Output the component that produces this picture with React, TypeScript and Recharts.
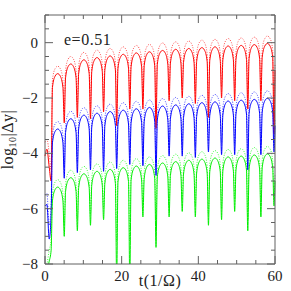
import { LineChart, Line, XAxis, YAxis, Label } from "recharts";

// sample times (1/Ω): dips of each arc plus a few points on every arc
const times = [
  0, 0.5, 1.1,
  1.6, 1.94, 2.63, 3.31, 3.99, 4.68,
  5.02, 5.36, 6.05, 6.73, 7.41, 8.1,
  8.44, 8.78, 9.47, 10.15, 10.83, 11.52,
  11.86, 12.2, 12.89, 13.57, 14.25, 14.94,
  15.28, 15.62, 16.31, 16.99, 17.67, 18.36,
  18.7, 19.04, 19.73, 20.41, 21.09, 21.78,
  22.12, 22.46, 23.15, 23.83, 24.51, 25.2,
  25.54, 25.88, 26.57, 27.25, 27.93, 28.62,
  28.96, 29.3, 29.99, 30.67, 31.35, 32.04,
  32.38, 32.72, 33.41, 34.09, 34.77, 35.46,
  35.8, 36.14, 36.83, 37.51, 38.19, 38.88,
  39.22, 39.56, 40.25, 40.93, 41.61, 42.3,
  42.64, 42.98, 43.67, 44.35, 45.03, 45.72,
  46.06, 46.4, 47.09, 47.77, 48.45, 49.14,
  49.48, 49.82, 50.51, 51.19, 51.87, 52.56,
  52.9, 53.24, 53.93, 54.61, 55.29, 55.98,
  56.32, 56.66, 57.35, 58.03, 58.71, 59.4,
  59.74, 60,
];

const redSolid = [
  -4.1, -3.85, -4.5,
  -5.0, -1.62, -1.21, -1.12, -1.21, -1.62,
  -2.9, -1.27, -0.86, -0.77, -0.86, -1.27,
  -2.7, -1.12, -0.71, -0.62, -0.71, -1.12,
  -2.75, -1.04, -0.63, -0.54, -0.63, -1.04,
  -2.5, -0.98, -0.57, -0.48, -0.57, -0.98,
  -3.0, -0.92, -0.51, -0.42, -0.51, -0.92,
  -2.4, -0.87, -0.46, -0.37, -0.46, -0.87,
  -2.4, -0.83, -0.42, -0.33, -0.42, -0.83,
  -3.1, -0.78, -0.37, -0.28, -0.37, -0.78,
  -2.1, -0.74, -0.33, -0.24, -0.33, -0.74,
  -2.0, -0.71, -0.3, -0.21, -0.3, -0.71,
  -2.2, -0.68, -0.27, -0.18, -0.27, -0.68,
  -2.7, -0.65, -0.24, -0.15, -0.24, -0.65,
  -2.0, -0.62, -0.21, -0.12, -0.21, -0.62,
  -2.1, -0.6, -0.19, -0.1, -0.19, -0.6,
  -2.4, -0.57, -0.16, -0.07, -0.16, -0.57,
  -2.1, -0.53, -0.12, -0.03, -0.12, -0.53,
  -3.3, -1.0,
];

const redDotted = [
  -3.6, -3.5, -4.0,
  -4.6, -1.35, -0.94, -0.85, -0.94, -1.35,
  -2.5, -1.0, -0.59, -0.5, -0.59, -1.0,
  -2.3, -0.85, -0.44, -0.35, -0.44, -0.85,
  -2.35, -0.77, -0.36, -0.27, -0.36, -0.77,
  -2.1, -0.71, -0.3, -0.21, -0.3, -0.71,
  -2.6, -0.65, -0.24, -0.15, -0.24, -0.65,
  -2.0, -0.6, -0.19, -0.1, -0.19, -0.6,
  -2.0, -0.56, -0.15, -0.06, -0.15, -0.56,
  -2.7, -0.51, -0.1, -0.01, -0.1, -0.51,
  -1.7, -0.47, -0.06, 0.03, -0.06, -0.47,
  -1.6, -0.44, -0.03, 0.06, -0.03, -0.44,
  -1.8, -0.41, 0.0, 0.09, 0.0, -0.41,
  -2.3, -0.38, 0.03, 0.12, 0.03, -0.38,
  -1.6, -0.35, 0.06, 0.15, 0.06, -0.35,
  -1.7, -0.33, 0.08, 0.17, 0.08, -0.33,
  -2.0, -0.3, 0.11, 0.2, 0.11, -0.3,
  -1.7, -0.26, 0.15, 0.24, 0.15, -0.26,
  -2.9, -0.75,
];

const blueSolid = [
  -5.9, -5.85, -7.1,
  -6.2, -3.62, -3.21, -3.12, -3.21, -3.62,
  -4.9, -3.25, -2.84, -2.75, -2.84, -3.25,
  -4.7, -3.12, -2.71, -2.62, -2.71, -3.12,
  -4.6, -3.05, -2.64, -2.55, -2.64, -3.05,
  -4.65, -2.99, -2.58, -2.49, -2.58, -2.99,
  -4.55, -2.94, -2.53, -2.44, -2.53, -2.94,
  -4.4, -2.89, -2.48, -2.39, -2.48, -2.89,
  -4.45, -2.84, -2.43, -2.34, -2.43, -2.84,
  -4.8, -2.79, -2.38, -2.29, -2.38, -2.79,
  -4.1, -2.75, -2.34, -2.25, -2.34, -2.75,
  -4.1, -2.71, -2.3, -2.21, -2.3, -2.71,
  -4.15, -2.67, -2.26, -2.17, -2.26, -2.67,
  -3.95, -2.64, -2.23, -2.14, -2.23, -2.64,
  -4.05, -2.61, -2.2, -2.11, -2.2, -2.61,
  -4.05, -2.58, -2.17, -2.08, -2.17, -2.58,
  -4.6, -2.55, -2.14, -2.05, -2.14, -2.55,
  -4.05, -2.51, -2.1, -2.01, -2.1, -2.51,
  -3.95, -3.0,
];

const blueDotted = [
  -5.5, -5.45, -6.6,
  -5.8, -3.35, -2.94, -2.85, -2.94, -3.35,
  -4.5, -2.98, -2.57, -2.48, -2.57, -2.98,
  -4.3, -2.85, -2.44, -2.35, -2.44, -2.85,
  -4.2, -2.78, -2.37, -2.28, -2.37, -2.78,
  -4.25, -2.72, -2.31, -2.22, -2.31, -2.72,
  -4.15, -2.67, -2.26, -2.17, -2.26, -2.67,
  -4.0, -2.62, -2.21, -2.12, -2.21, -2.62,
  -4.05, -2.57, -2.16, -2.07, -2.16, -2.57,
  -4.4, -2.52, -2.11, -2.02, -2.11, -2.52,
  -3.7, -2.48, -2.07, -1.98, -2.07, -2.48,
  -3.7, -2.44, -2.03, -1.94, -2.03, -2.44,
  -3.75, -2.4, -1.99, -1.9, -1.99, -2.4,
  -3.55, -2.37, -1.96, -1.87, -1.96, -2.37,
  -3.65, -2.34, -1.93, -1.84, -1.93, -2.34,
  -3.65, -2.31, -1.9, -1.81, -1.9, -2.31,
  -4.2, -2.28, -1.87, -1.78, -1.87, -2.28,
  -3.65, -2.24, -1.83, -1.74, -1.83, -2.24,
  -3.55, -2.75,
];

const greenSolid = [
  -8.4, -8.2, -7.9,
  -7.5, -5.72, -5.31, -5.22, -5.31, -5.72,
  -7.0, -5.38, -4.97, -4.88, -4.97, -5.38,
  -6.8, -5.24, -4.83, -4.74, -4.83, -5.24,
  -6.6, -5.15, -4.74, -4.65, -4.74, -5.15,
  -6.4, -5.08, -4.67, -4.58, -4.67, -5.08,
  -8.6, -5.02, -4.61, -4.52, -4.61, -5.02,
  -8.6, -4.96, -4.55, -4.46, -4.55, -4.96,
  -6.3, -4.9, -4.49, -4.4, -4.49, -4.9,
  -7.4, -4.85, -4.44, -4.35, -4.44, -4.85,
  -6.3, -4.8, -4.39, -4.3, -4.39, -4.8,
  -6.1, -4.75, -4.34, -4.25, -4.34, -4.75,
  -6.3, -4.71, -4.3, -4.21, -4.3, -4.71,
  -6.6, -4.67, -4.26, -4.17, -4.26, -4.67,
  -6.4, -4.63, -4.22, -4.13, -4.22, -4.63,
  -6.1, -4.6, -4.19, -4.1, -4.19, -4.6,
  -6.8, -4.56, -4.15, -4.06, -4.15, -4.56,
  -6.3, -4.52, -4.11, -4.02, -4.11, -4.52,
  -5.9, -5.0,
];

const greenDotted = [
  -8.2, -8.0, -7.5,
  -7.1, -5.45, -5.04, -4.95, -5.04, -5.45,
  -6.6, -5.11, -4.7, -4.61, -4.7, -5.11,
  -6.4, -4.97, -4.56, -4.47, -4.56, -4.97,
  -6.2, -4.88, -4.47, -4.38, -4.47, -4.88,
  -6.0, -4.81, -4.4, -4.31, -4.4, -4.81,
  -7.2, -4.75, -4.34, -4.25, -4.34, -4.75,
  -7.2, -4.69, -4.28, -4.19, -4.28, -4.69,
  -5.9, -4.63, -4.22, -4.13, -4.22, -4.63,
  -6.6, -4.58, -4.17, -4.08, -4.17, -4.58,
  -5.9, -4.53, -4.12, -4.03, -4.12, -4.53,
  -5.7, -4.48, -4.07, -3.98, -4.07, -4.48,
  -5.9, -4.44, -4.03, -3.94, -4.03, -4.44,
  -6.2, -4.4, -3.99, -3.9, -3.99, -4.4,
  -6.0, -4.36, -3.95, -3.86, -3.95, -4.36,
  -5.7, -4.33, -3.92, -3.83, -3.92, -4.33,
  -6.4, -4.29, -3.88, -3.79, -3.88, -4.29,
  -5.9, -4.25, -3.84, -3.75, -3.84, -4.25,
  -5.5, -4.75,
];

const xTicks = [0, 5, 10, 15, 20, 25, 30, 35, 40, 45, 50, 55, 60];
const xMajor = [0, 20, 40, 60];
const yTicks = [-8, -7.5, -7, -6.5, -6, -5.5, -5, -4.5, -4, -3.5, -3, -2.5, -2, -1.5, -1, -0.5, 0, 0.5, 1];
const yMajor = [-8, -6, -4, -2, 0];

const data = times.map((t, i) => ({
  t,
  redSolid: redSolid[i],
  redDotted: redDotted[i],
  blueSolid: blueSolid[i],
  blueDotted: blueDotted[i],
  greenSolid: greenSolid[i],
  greenDotted: greenDotted[i],
}));

// dotted ones first so the solid curves sit on top
const series = [
  { key: "redDotted", color: "#ff5050", dash: "1 1.5" },
  { key: "blueDotted", color: "#5050ff", dash: "1 1.5" },
  { key: "greenDotted", color: "#40ff40", dash: "1 1.5" },
  { key: "redSolid", color: "#ff0000", dash: undefined },
  { key: "blueSolid", color: "#0000ff", dash: undefined },
  { key: "greenSolid", color: "#00ee00", dash: undefined },
];

const FONT = '"Liberation Serif", "Times New Roman", serif';
const AXIS = "#606060";
const TEXT = "#222";

const fmt = (v: number) => (v < 0 ? `\u2212${Math.abs(v)}` : `${v}`);

function BottomTick({ x, y, payload }: any) {
  const major = xMajor.includes(payload.value);
  return (
    <g>
      <line x1={x} y1={y} x2={x} y2={y - (major ? 8 : 4)} stroke={AXIS} />
      {major && (
        <text x={x} y={y + 17} textAnchor="middle" fontSize={15} fontFamily={FONT} fill={TEXT}>
          {payload.value}
        </text>
      )}
    </g>
  );
}

function TopTick({ x, y, payload }: any) {
  const major = xMajor.includes(payload.value);
  return <line x1={x} y1={y} x2={x} y2={y + (major ? 8 : 4)} stroke={AXIS} />;
}

function LeftTick({ x, y, payload }: any) {
  const major = yMajor.includes(payload.value);
  return (
    <g>
      <line x1={x} y1={y} x2={x + (major ? 8 : 4)} y2={y} stroke={AXIS} />
      {major && (
        <text x={x - 7} y={y + 5} textAnchor="end" fontSize={15} fontFamily={FONT} fill={TEXT}>
          {fmt(payload.value)}
        </text>
      )}
    </g>
  );
}

function RightTick({ x, y, payload }: any) {
  const major = yMajor.includes(payload.value);
  return <line x1={x} y1={y} x2={x - (major ? 8 : 4)} y2={y} stroke={AXIS} />;
}

function XTitle({ viewBox }: any) {
  const { x = 45, y = 264, width = 230 } = viewBox || {};
  return (
    <text x={x + width / 2} y={y + 22} textAnchor="middle" fontSize={16} fontFamily={FONT} fill={TEXT} letterSpacing={0.5}>
      t(1/Ω)
    </text>
  );
}

function YTitle({ viewBox }: any) {
  const { x = 15, y = 15, height = 249 } = viewBox || {};
  const tx = x - 2;
  const ty = y + height / 2;
  return (
    <text
      x={tx}
      y={ty}
      transform={`rotate(-90 ${tx} ${ty})`}
      textAnchor="middle"
      fontSize={16}
      fontFamily={FONT}
      fill={TEXT}
      letterSpacing={0.5}
    >
      log
      <tspan fontSize={10} dy={3}>10</tspan>
      <tspan dy={-3}>|Δy|</tspan>
    </text>
  );
}

export default function App() {
  return (
    <div style={{ position: "absolute", left: 0, top: 0, width: 291, height: 291, background: "#fff" }}>
      <LineChart width={291} height={291} data={data} margin={{ top: 14, right: 15, bottom: 7, left: 15 }}>
        <XAxis
          dataKey="t"
          type="number"
          domain={[0, 60]}
          ticks={xTicks}
          interval={0}
          height={20}
          tickSize={0}
          tickMargin={0}
          tickLine={false}
          axisLine={{ stroke: AXIS }}
          tick={BottomTick}
        >
          <Label content={XTitle} />
        </XAxis>
        <XAxis
          xAxisId="top"
          orientation="top"
          dataKey="t"
          type="number"
          domain={[0, 60]}
          ticks={xTicks}
          interval={0}
          height={1}
          tickSize={0}
          tickMargin={0}
          tickLine={false}
          axisLine={{ stroke: AXIS }}
          tick={TopTick}
        />
        <YAxis
          type="number"
          domain={[-8, 1]}
          allowDataOverflow
          ticks={yTicks}
          interval={0}
          width={30}
          tickSize={0}
          tickMargin={0}
          tickLine={false}
          axisLine={{ stroke: AXIS }}
          tick={LeftTick}
        >
          <Label content={YTitle} />
        </YAxis>
        <YAxis
          yAxisId="right"
          orientation="right"
          type="number"
          domain={[-8, 1]}
          allowDataOverflow
          ticks={yTicks}
          interval={0}
          width={1}
          tickSize={0}
          tickMargin={0}
          tickLine={false}
          axisLine={{ stroke: AXIS }}
          tick={RightTick}
        />
        {series.map((s) => (
          <Line
            key={s.key}
            dataKey={s.key}
            type="monotone"
            stroke={s.color}
            strokeWidth={1}
            strokeDasharray={s.dash}
            dot={false}
            activeDot={false}
            isAnimationActive={false}
          />
        ))}
      </LineChart>
      <div
        style={{
          position: "absolute",
          left: 64,
          top: 32,
          fontFamily: FONT,
          fontSize: 16,
          lineHeight: "16px",
          letterSpacing: 0.5,
          color: TEXT,
          whiteSpace: "nowrap",
        }}
      >
        e=0.51
      </div>
    </div>
  );
}
